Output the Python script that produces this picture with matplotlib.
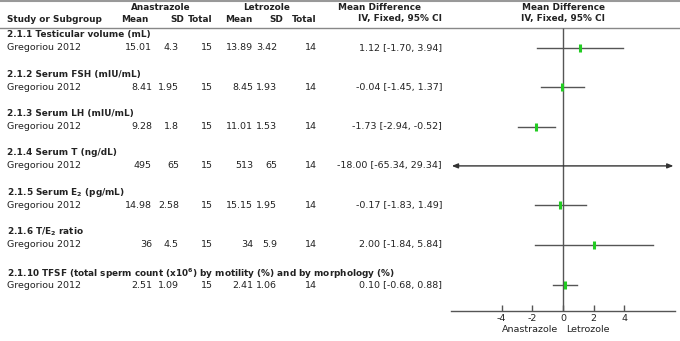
import numpy as np
import matplotlib.pyplot as plt

# data
groups = ['2.1.1 Testicular volume (mL)',
          '2.1.2 Serum FSH (mIU/mL)',
          '2.1.3 Serum LH (mIU/mL)',
          '2.1.4 Serum T (ng/dL)',
          r'2.1.5 Serum E$\mathbf{_2}$ (pg/mL)',
          r'2.1.6 T/E$\mathbf{_2}$ ratio',
          r'2.1.10 TFSF (total sperm count (x10$\mathbf{^6}$) by motility (%) and by morphology (%)']
study = 'Gregoriou 2012'
ana_mean = ['15.01', '8.41', '9.28', '495', '14.98', '36', '2.51']
ana_sd = ['4.3', '1.95', '1.8', '65', '2.58', '4.5', '1.09']
ana_n = ['15', '15', '15', '15', '15', '15', '15']
let_mean = ['13.89', '8.45', '11.01', '513', '15.15', '34', '2.41']
let_sd = ['3.42', '1.93', '1.53', '65', '1.95', '5.9', '1.06']
let_n = ['14', '14', '14', '14', '14', '14', '14']
md = [1.12, -0.04, -1.73, -18.00, -0.17, 2.00, 0.10]
ci_lo = [-1.70, -1.45, -2.94, -65.34, -1.83, -1.84, -0.68]
ci_hi = [3.94, 1.37, -0.52, 29.34, 1.49, 5.84, 0.88]
ticks = [-4, -2, 0, 2, 4]

W, H = 680, 341
fig = plt.figure(figsize=(W / 100, H / 100), dpi=100)
fs = 6.8
fsb = 6.4
tc = '#222222'
lc = '#555555'

# text layer in pixel coordinates
ax = fig.add_axes([0, 0, 1, 1])
ax.set_xlim(0, W)
ax.set_ylim(H, 0)
ax.axis('off')

ax.axhline(1, color='#999999', lw=1.5)
ax.axhline(28, color='#888888', lw=1.0)

bold = dict(fontsize=fsb, fontweight='bold', color=tc, va='center')
reg = dict(fontsize=fs, color=tc, va='center')

ax.text(161, 7, 'Anastrazole', ha='center', **bold)
ax.text(267, 7, 'Letrozole', ha='center', **bold)
ax.text(338, 7, 'Mean Difference', ha='left', **bold)
ax.text(563, 7, 'Mean Difference', ha='center', **bold)
ax.text(7, 19, 'Study or Subgroup', ha='left', **bold)
for x, s in zip([148, 184, 213, 252, 283, 317],
                ['Mean', 'SD', 'Total', 'Mean', 'SD', 'Total']):
    ax.text(x, 19, s, ha='right', **bold)
ax.text(442, 19, 'IV, Fixed, 95% CI', ha='right', **bold)
ax.text(563, 19, 'IV, Fixed, 95% CI', ha='center', **bold)

row_y = [48 + 39.3 * i for i in range(len(groups))]
row_y[-1] += 1.5
head_y = [y - 13 for y in row_y]
head_y[-1] = row_y[-1] - 11

col_x = [152, 179, 213, 253, 277, 317]
for i in range(len(groups)):
    ax.text(7, head_y[i], groups[i], ha='left', **bold)
    ax.text(7, row_y[i], study, ha='left', **reg)
    vals = [ana_mean[i], ana_sd[i], ana_n[i], let_mean[i], let_sd[i], let_n[i]]
    for x, v in zip(col_x, vals):
        ax.text(x, row_y[i], v, ha='right', **reg)
    lbl = '%.2f [%.2f, %.2f]' % (md[i], ci_lo[i], ci_hi[i])
    ax.text(442, row_y[i], lbl, ha='right', **reg)

ax.text(558, 329, 'Anastrazole', ha='right', **reg)
ax.text(566, 329, 'Letrozole', ha='left', **reg)

# forest panel
fx = fig.add_axes([451 / W, 0, 224 / W, 1])
fx.set_xlim(-7.3, 7.3)
fx.set_ylim(H, 0)
fx.patch.set_alpha(0)
for s in ['top', 'left', 'right']:
    fx.spines[s].set_visible(False)
fx.spines['bottom'].set_position(('data', 311))
fx.spines['bottom'].set_color(lc)
fx.spines['bottom'].set_linewidth(1.0)
fx.set_yticks([])
fx.set_xticks(ticks)
fx.set_xticklabels([str(t) for t in ticks])
fx.tick_params(axis='x', direction='in', length=4, width=1, color=lc,
               labelsize=fs, labelcolor=tc, pad=2)

fx.vlines(0, 28, 311, color=lc, lw=1.0)

xmin, xmax = -7.25, 7.2
for i in range(len(groups)):
    y = row_y[i]
    lo, hi = ci_lo[i], ci_hi[i]
    if lo < xmin or hi > xmax:
        left = '<|' if lo < xmin else ''
        right = '|>' if hi > xmax else ''
        fx.annotate('', xy=(min(hi, xmax), y), xytext=(max(lo, xmin), y),
                    arrowprops=dict(arrowstyle=left + '-' + right + ',head_length=0.35,head_width=0.14',
                                    color='#333333', lw=1.0, shrinkA=0, shrinkB=0))
    else:
        fx.plot([lo, hi], [y, y], color=lc, lw=1.0)
    if xmin < md[i] < xmax and i != 3:
        fx.plot(md[i], y, marker='|', markersize=6, markeredgewidth=2.2,
                color='#22cc22')

fig.savefig('out.png', dpi=100)
